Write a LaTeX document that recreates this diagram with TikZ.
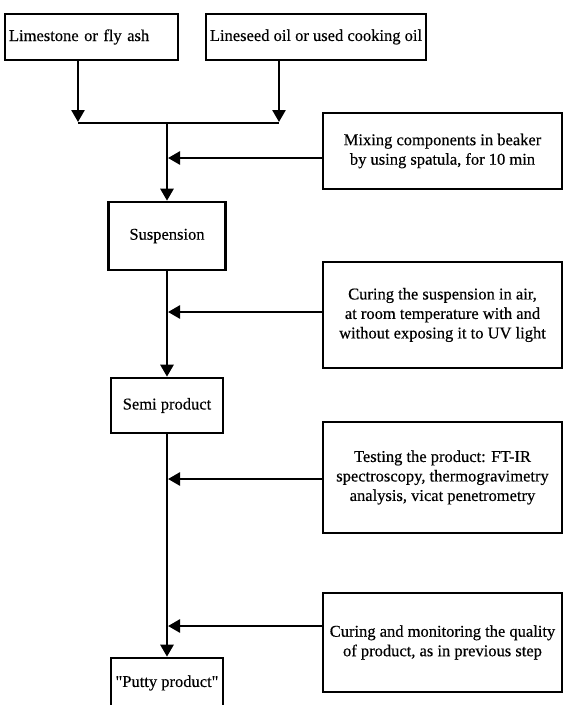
\documentclass[tikz,border=0pt]{standalone}
\usepackage{fontspec}
\setmainfont{Liberation Serif}
\newfontfamily\diagfont{Liberation Serif}[FakeBold=0.4]
\usetikzlibrary{arrows.meta,positioning}

\begin{document}
\begin{tikzpicture}
[x=1pt,y=-1pt,line width=2.6pt,>={Triangle[length=12pt,width=13pt]},
  input node/.style={draw,font=\diagfont\fontsize{16.5}{19}\selectfont,minimum height=46pt,inner sep=3pt},
  main node/.style={draw,font=\diagfont\fontsize{16.5}{19}\selectfont,align=center},
  step node/.style={draw,font=\diagfont\fontsize{16.5}{19.5}\selectfont,minimum width=239pt,align=center}]

  \useasboundingbox (0,0) rectangle (568,705);

  \node [input node,text width=165pt,align=left,inner xsep=4pt] (lime) at (91.5,37) {Limestone or fly ash};
  \node [input node,minimum width=220pt] (oil) at (316,37) {Lineseed oil or used cooking oil};
  \node [step node,minimum height=76pt] (mix) at (442.5,151) {Mixing components in beaker\\by using spatula, for 10 min};
  \node [main node,minimum width=117pt,minimum height=68pt] (susp) at (167,236) {Suspension};
  \node [step node,minimum height=106pt] (cure) at (442.5,315) {Curing the suspension in air,\\at room temperature with and\\without exposing it to UV light};
  \node [main node,minimum width=112pt,minimum height=55pt] (semi) at (167,405.5) {Semi product};
  \node [step node,minimum height=111pt] (test) at (442.5,477.5) {Testing the product: FT-IR\\spectroscopy, thermogravimetry\\analysis, vicat penetrometry};
  \node [step node,minimum height=99pt] (cure2) at (442.5,642.5) {Curing and monitoring the quality\\of product, as in previous step};
  \node [main node,minimum width=112pt,minimum height=50pt] (putty) at (167,683) {\textquotedbl Putty product\textquotedbl};

  \coordinate (ja) at (78,123);
  \coordinate (jb) at (279,123);
  \coordinate (jm) at (167,123);
  \coordinate (s1) at (168,158);
  \coordinate (s2) at (168,312);
  \coordinate (s3) at (168,479);
  \coordinate (s4) at (168,626);

  \draw [->,shorten >=1pt] (ja |- lime.south) -- (ja);
  \draw [->,shorten >=1pt] (jb |- oil.south) -- (jb);
  \draw (ja) -- (jb);

  \foreach \from/\to in {jm/susp,susp/semi,semi/putty}
    \draw [->] (\from) -- (\to);

  \foreach \from/\to in {mix/s1,cure/s2,test/s3,cure2/s4}
    \draw [->] (\to -| \from.west) -- (\to);

\end{tikzpicture}
\end{document}
